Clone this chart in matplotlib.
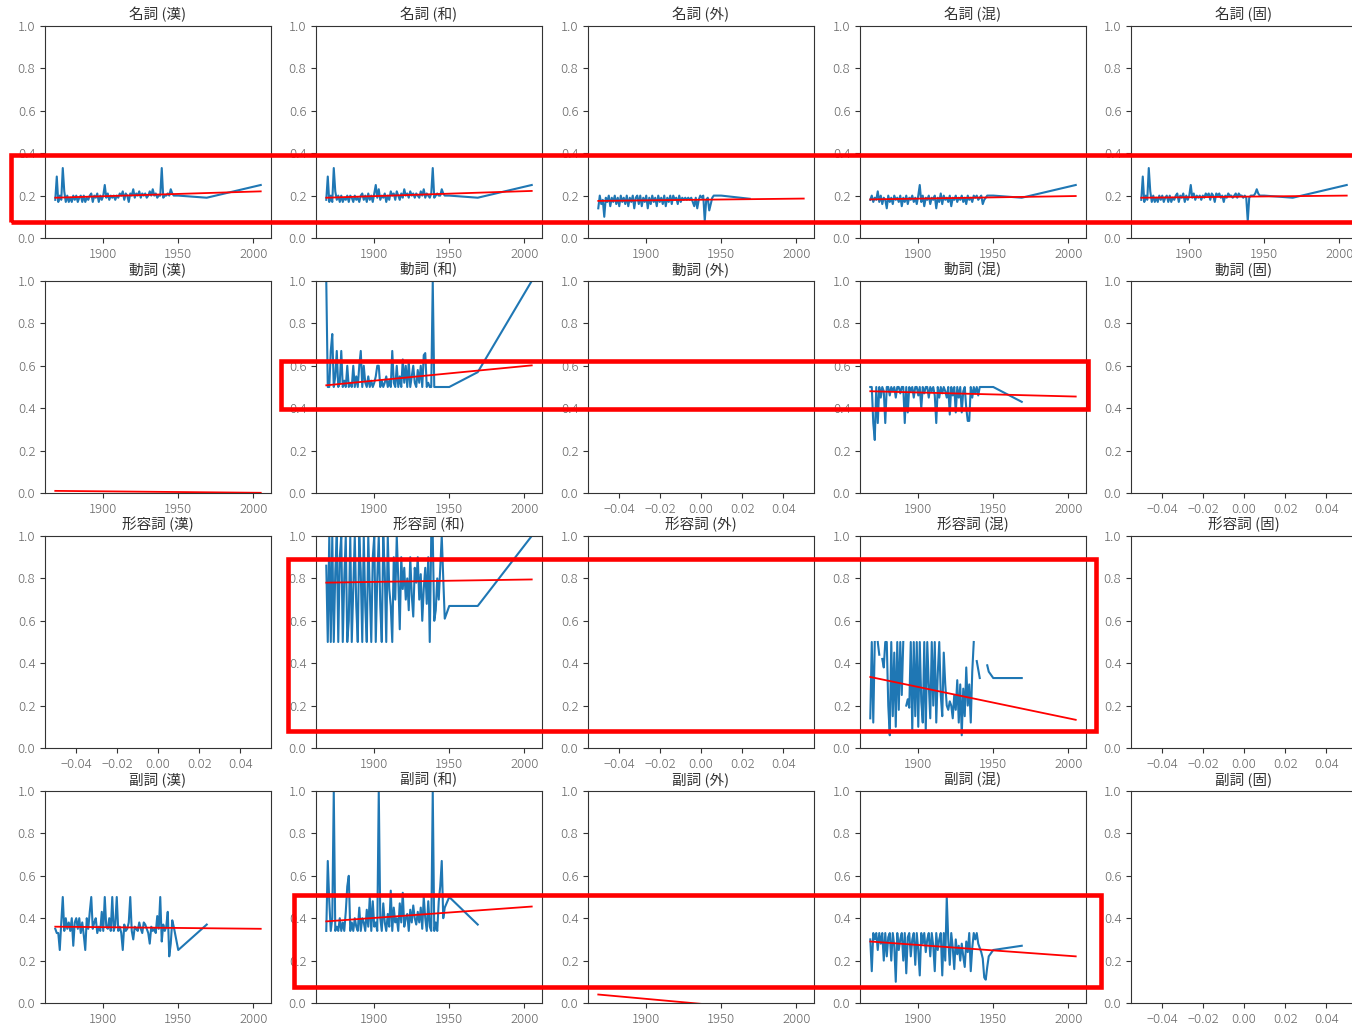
import numpy as np
import matplotlib
matplotlib.use('Agg')
import matplotlib.pyplot as plt
from matplotlib.patches import Rectangle

plt.rcParams['font.family'] = ['Noto Sans CJK JP', 'DejaVu Sans']
plt.rcParams['font.weight'] = 'light'

nan = np.nan

POS = ['名詞', '動詞', '形容詞', '副詞']
ORIGIN = ['漢', '和', '外', '混', '固']
YEARS = list(range(1868, 1948)) + [1950, 1969, 2005]
EMPTY_XTICKS = [-0.04, -0.02, 0.00, 0.02, 0.04]

# ---- blue series (ratio by year) ----
N_KAN = [0.18, 0.29, 0.17, 0.20, 0.18, 0.33, 0.22, 0.17, 0.20, 0.17,
         0.19, 0.17, 0.20, 0.18, 0.20, 0.17, 0.19, 0.20, 0.17, 0.20,
         0.17, 0.19, 0.18, 0.20, 0.21, 0.17, 0.20, 0.19, 0.21, 0.17,
         0.20, 0.18, 0.20, 0.25, 0.19, 0.21, 0.18, 0.20, 0.19, 0.20,
         0.18, 0.20, 0.19, 0.21, 0.20, 0.22, 0.18, 0.21, 0.20, 0.17,
         0.21, 0.20, 0.23, 0.19, 0.21, 0.20, 0.22, 0.19, 0.21, 0.20,
         0.21, 0.19, 0.20, 0.22, 0.20, 0.23, 0.20, 0.21, 0.19, 0.20,
         0.20, 0.33, 0.19, 0.20, 0.20, 0.21, 0.20, 0.23, 0.21, 0.20,
         0.20, 0.19, 0.25]
N_WA = [0.18, 0.29, 0.17, 0.20, 0.17, 0.33, 0.22, 0.18, 0.20, 0.17,
        0.20, 0.17, 0.19, 0.18, 0.20, 0.17, 0.20, 0.19, 0.17, 0.20,
        0.18, 0.19, 0.17, 0.20, 0.21, 0.18, 0.20, 0.17, 0.21, 0.18,
        0.20, 0.17, 0.21, 0.25, 0.19, 0.23, 0.18, 0.20, 0.19, 0.21,
        0.17, 0.20, 0.18, 0.22, 0.20, 0.21, 0.18, 0.22, 0.20, 0.18,
        0.21, 0.19, 0.23, 0.20, 0.21, 0.19, 0.22, 0.20, 0.21, 0.19,
        0.21, 0.20, 0.19, 0.22, 0.20, 0.23, 0.19, 0.21, 0.20, 0.19,
        0.21, 0.33, 0.19, 0.20, 0.21, 0.20, 0.20, 0.23, 0.21, 0.20,
        0.20, 0.19, 0.25]
N_GAI = [0.14, 0.20, 0.16, 0.18, 0.10, 0.19, 0.17, 0.20, 0.15, 0.19,
         0.17, 0.20, 0.16, 0.19, 0.15, 0.20, 0.17, 0.19, 0.16, 0.20,
         0.15, 0.19, 0.17, 0.20, 0.14, 0.19, 0.20, 0.16, 0.20, 0.15,
         0.19, 0.17, 0.20, 0.14, 0.19, 0.16, 0.20, 0.17, 0.19, 0.15,
         0.20, 0.17, 0.19, 0.16, 0.20, 0.15, 0.19, 0.17, 0.20, 0.16,
         0.20, 0.18, 0.19, 0.16, 0.20, 0.17, 0.19, 0.18, 0.19, 0.18,
         0.19, 0.18, 0.19, 0.17, 0.15, 0.19, 0.14, 0.18, 0.20, 0.19,
         0.20, 0.08, 0.18, 0.19, 0.13, 0.16, 0.19, 0.20, 0.20, 0.20,
         0.20, 0.185, nan]
N_KON = [0.18, 0.20, 0.17, 0.19, 0.18, 0.22, 0.17, 0.20, 0.16, 0.19,
         0.18, 0.14, 0.20, 0.17, 0.19, 0.16, 0.20, 0.18, 0.19, 0.17,
         0.20, 0.15, 0.19, 0.17, 0.20, 0.16, 0.19, 0.18, 0.20, 0.17,
         0.19, 0.16, 0.20, 0.25, 0.17, 0.20, 0.15, 0.19, 0.18, 0.20,
         0.16, 0.19, 0.18, 0.20, 0.14, 0.19, 0.17, 0.21, 0.16, 0.20,
         0.18, 0.19, 0.17, 0.20, 0.15, 0.19, 0.18, 0.20, 0.17, 0.19,
         0.18, 0.20, 0.17, 0.19, 0.16, 0.20, 0.18, 0.19, 0.17, 0.20,
         0.19, 0.20, 0.18, 0.19, 0.20, 0.16, 0.18, 0.19, 0.20, 0.20,
         0.20, 0.19, 0.25]
N_KO = [0.18, 0.29, 0.17, 0.20, 0.18, 0.33, 0.22, 0.17, 0.20, 0.17,
        0.19, 0.17, 0.20, 0.18, 0.20, 0.17, 0.19, 0.20, 0.17, 0.20,
        0.17, 0.19, 0.18, 0.20, 0.21, 0.17, 0.20, 0.19, 0.21, 0.17,
        0.20, 0.18, 0.20, 0.25, 0.19, 0.21, 0.18, 0.20, 0.19, 0.20,
        0.18, 0.20, 0.19, 0.21, 0.20, 0.21, 0.18, 0.21, 0.20, 0.17,
        0.21, 0.20, 0.21, 0.19, 0.20, 0.17, 0.20, 0.19, 0.21, 0.20,
        0.20, 0.19, 0.20, 0.21, 0.19, 0.21, 0.20, 0.20, 0.19, 0.20,
        0.19, 0.08, 0.19, 0.20, 0.20, 0.20, 0.21, 0.23, 0.21, 0.20,
        0.20, 0.19, 0.25]
V_WA = [1.00, 0.50, 0.50, 0.67, 0.75, 0.50, 0.55, 0.67, 0.50, 0.52,
        0.67, 0.50, 0.53, 0.50, 0.60, 0.50, 0.52, 0.50, 0.60, 0.50,
        0.55, 0.50, 0.60, 0.67, 0.50, 0.60, 0.52, 0.50, 0.55, 0.50,
        0.53, 0.50, 0.52, 0.55, 0.60, 0.60, 0.50, 0.53, 0.50, 0.52,
        0.55, 0.50, 0.53, 0.50, 0.67, 0.52, 0.50, 0.60, 0.50, 0.55,
        0.50, 0.63, 0.52, 0.60, 0.50, 0.62, 0.50, 0.55, 0.60, 0.52,
        0.50, 0.58, 0.52, 0.60, 0.50, 0.65, 0.66, 0.50, 0.52, 0.50,
        0.50, 1.00, 0.50, 0.50, 0.50, 0.50, 0.50, 0.50, 0.50, 0.50,
        0.50, 0.57, 1.00]
V_KON = [0.50, 0.50, 0.33, 0.25, 0.50, 0.33, 0.50, 0.45, 0.50, 0.48,
         0.33, 0.50, 0.50, 0.46, 0.50, 0.48, 0.50, 0.45, 0.50, 0.50,
         0.47, 0.50, 0.50, 0.33, 0.50, 0.38, 0.50, 0.48, 0.50, 0.45,
         0.50, 0.50, 0.46, 0.50, 0.40, 0.50, 0.47, 0.50, 0.50, 0.45,
         0.50, 0.48, 0.50, 0.46, 0.33, 0.50, 0.45, 0.50, 0.47, 0.50,
         0.48, 0.45, 0.50, 0.37, 0.50, 0.46, 0.50, 0.38, 0.50, 0.45,
         0.50, 0.38, 0.48, 0.50, 0.40, 0.34, 0.34, 0.50, 0.45, 0.50,
         0.47, 0.50, 0.46, 0.50, 0.50, 0.50, 0.50, 0.50, 0.50, 0.50,
         0.50, 0.43, nan]
A_WA = [0.86, 0.50, 1.00, 0.50, 1.00, 0.50, 0.83, 1.00, 0.50, 0.90,
        1.00, 0.50, 0.80, 1.00, 0.50, 0.60, 1.00, 0.50, 0.75, 1.00,
        0.67, 0.50, 1.00, 0.83, 0.50, 1.00, 0.67, 0.50, 1.00, 0.75,
        0.50, 0.90, 1.00, 0.50, 0.80, 1.00, 0.67, 0.50, 1.00, 0.83,
        0.50, 1.00, 0.75, 0.67, 0.50, 0.90, 0.70, 1.00, 0.80, 0.56,
        0.90, 0.75, 0.85, 0.70, 0.80, 0.65, 0.90, 0.72, 0.62, 0.85,
        0.78, 0.90, 0.70, 0.82, 0.60, 0.75, 0.85, 0.68, 0.90, 0.50,
        1.00, 1.00, 0.60, 0.65, 0.80, 0.70, 0.85, 1.00, 0.80, 0.61,
        0.67, 0.67, 1.00]
A_KON = [0.14, 0.50, 0.12, 0.50, nan, 0.50, 0.44, nan, 0.42, 0.38,
         0.50, 0.50, 0.20, 0.06, 0.50, 0.15, 0.45, 0.10, 0.50, 0.18,
         0.50, 0.25, 0.50, nan, 0.20, 0.23, 0.19, 0.50, 0.08, 0.50,
         0.15, 0.50, 0.10, 0.50, 0.22, 0.12, 0.50, 0.08, 0.50, 0.30,
         0.14, 0.50, 0.20, 0.50, 0.12, 0.35, 0.50, 0.25, 0.15, 0.45,
         0.30, 0.20, 0.18, 0.22, 0.20, 0.14, 0.25, 0.18, 0.32, 0.12,
         0.30, 0.06, 0.28, 0.15, 0.38, 0.20, 0.30, 0.12, 0.36, 0.50,
         nan, 0.41, 0.37, 0.33, nan, nan, nan, nan, 0.39, 0.36,
         0.33, 0.33, nan]
D_KAN = [0.35, 0.33, 0.33, 0.25, 0.38, 0.50, 0.34, 0.40, 0.35, 0.38,
         0.34, 0.40, 0.27, 0.38, 0.40, 0.35, 0.40, 0.33, 0.38, 0.32,
         0.25, 0.40, 0.35, 0.43, 0.50, 0.35, 0.38, 0.40, 0.33, 0.36,
         0.34, 0.43, 0.34, 0.50, 0.36, 0.35, 0.40, 0.34, 0.50, 0.34,
         0.37, 0.50, 0.34, 0.36, 0.33, 0.25, 0.37, 0.34, 0.35, 0.38,
         0.50, 0.34, 0.30, 0.36, 0.35, 0.34, 0.38, 0.35, 0.33, 0.38,
         0.37, 0.35, 0.33, 0.28, 0.36, 0.34, 0.35, 0.33, 0.41, 0.35,
         0.50, 0.29, 0.37, 0.34, 0.36, 0.43, 0.22, 0.28, 0.39, 0.36,
         0.25, 0.37, nan]
D_WA = [0.34, 0.67, 0.48, 0.34, 0.40, 1.00, 0.34, 0.36, 0.34, 0.40,
        0.34, 0.38, 0.34, 0.43, 0.55, 0.60, 0.34, 0.38, 0.34, 0.40,
        0.36, 0.34, 0.45, 0.34, 0.40, 0.38, 0.34, 0.44, 0.36, 0.50,
        0.34, 0.48, 0.36, 0.38, 0.34, 1.00, 0.40, 0.34, 0.47, 0.38,
        0.34, 0.42, 0.36, 0.53, 0.34, 0.45, 0.38, 0.40, 0.34, 0.47,
        0.38, 0.52, 0.36, 0.40, 0.42, 0.34, 0.44, 0.38, 0.46, 0.40,
        0.37, 0.43, 0.38, 0.45, 0.35, 0.50, 0.40, 0.34, 0.48, 0.36,
        0.34, 1.00, 0.34, 0.38, 0.34, 0.48, 0.55, 0.67, 0.40, 0.45,
        0.50, 0.37, nan]
D_KON = [0.30, 0.15, 0.33, 0.30, 0.33, 0.25, 0.33, 0.28, 0.33, 0.20,
         0.33, 0.22, 0.31, 0.33, 0.20, 0.33, 0.27, 0.10, 0.33, 0.25,
         0.30, 0.33, 0.20, 0.33, 0.14, 0.31, 0.33, 0.22, 0.30, 0.33,
         0.18, 0.33, 0.25, 0.13, 0.33, 0.28, 0.33, 0.24, 0.30, 0.33,
         0.22, 0.33, 0.27, 0.15, 0.33, 0.25, 0.30, 0.33, 0.13, 0.33,
         0.20, 0.50, 0.30, 0.18, 0.33, 0.26, 0.16, 0.30, 0.23, 0.27,
         0.20, 0.28, 0.22, 0.17, 0.29, 0.24, 0.33, 0.15, 0.26, 0.33,
         0.30, 0.33, 0.28, 0.26, 0.24, 0.21, 0.12, 0.11, 0.17, 0.22,
         0.25, 0.27, nan]

SERIES = {
    (0, 0): N_KAN, (0, 1): N_WA, (0, 2): N_GAI, (0, 3): N_KON, (0, 4): N_KO,
    (1, 1): V_WA, (1, 3): V_KON,
    (2, 1): A_WA, (2, 3): A_KON,
    (3, 0): D_KAN, (3, 1): D_WA, (3, 3): D_KON,
}

# ---- red regression line: fitted value at first and last year ----
FIT_START = [[0.190, 0.190, 0.175, 0.182, 0.190],
             [0.010, 0.508, None, 0.480, None],
             [None, 0.780, None, 0.335, None],
             [0.360, 0.385, 0.040, 0.290, None]]
FIT_END = [[0.220, 0.222, 0.186, 0.198, 0.200],
           [0.001, 0.602, None, 0.455, None],
           [None, 0.795, None, 0.133, None],
           [0.350, 0.455, -0.048, 0.220, None]]
FIT_YEARS = [YEARS[0], YEARS[-1]]

W, H = 1352, 1025
fig = plt.figure(figsize=(W / 100, H / 100), dpi=100)

col_left = [45, 316, 588, 860, 1131]
row_top = [26, 281, 536, 791]
ax_w, ax_h = 226, 212

for r in range(4):
    for c in range(5):
        ax = fig.add_axes([col_left[c] / W, (H - row_top[r] - ax_h) / H,
                           ax_w / W, ax_h / H])
        has = False
        if (r, c) in SERIES:
            ax.plot(YEARS, SERIES[(r, c)], color='#1f77b4', lw=1.5)
            has = True
        if FIT_START[r][c] is not None:
            ax.plot(FIT_YEARS, [FIT_START[r][c], FIT_END[r][c]],
                    color='red', lw=1.3)
            has = True
        if not has:
            ax.set_xlim(-0.055, 0.055)
            ax.set_xticks(EMPTY_XTICKS)
        ax.set_ylim(0, 1)
        ax.set_yticks([0, 0.2, 0.4, 0.6, 0.8, 1.0])
        ax.set_title(f'{POS[r]} ({ORIGIN[c]})', fontsize=10.5,
                     color='#333333', pad=5)
        ax.tick_params(labelsize=9.5, labelcolor='#666666',
                       color='#333333', length=3.5)
        for s in ax.spines.values():
            s.set_color('#333333')

# red highlight boxes (figure pixel coords: x0, y_top, x1, y_bottom)
BOXES = [(10.5, 155.5, 1370, 222),
         (281, 361, 1088, 409),
         (288, 559, 1095.5, 731),
         (293.5, 894.5, 1100.5, 987)]
for x0, yt, x1, yb in BOXES:
    fig.add_artist(Rectangle((x0 / W, (H - yb) / H), (x1 - x0) / W,
                             (yb - yt) / H, transform=fig.transFigure,
                             fill=False, edgecolor='red', lw=3.3,
                             clip_on=False, zorder=10))

fig.savefig('out.png', dpi=100)
